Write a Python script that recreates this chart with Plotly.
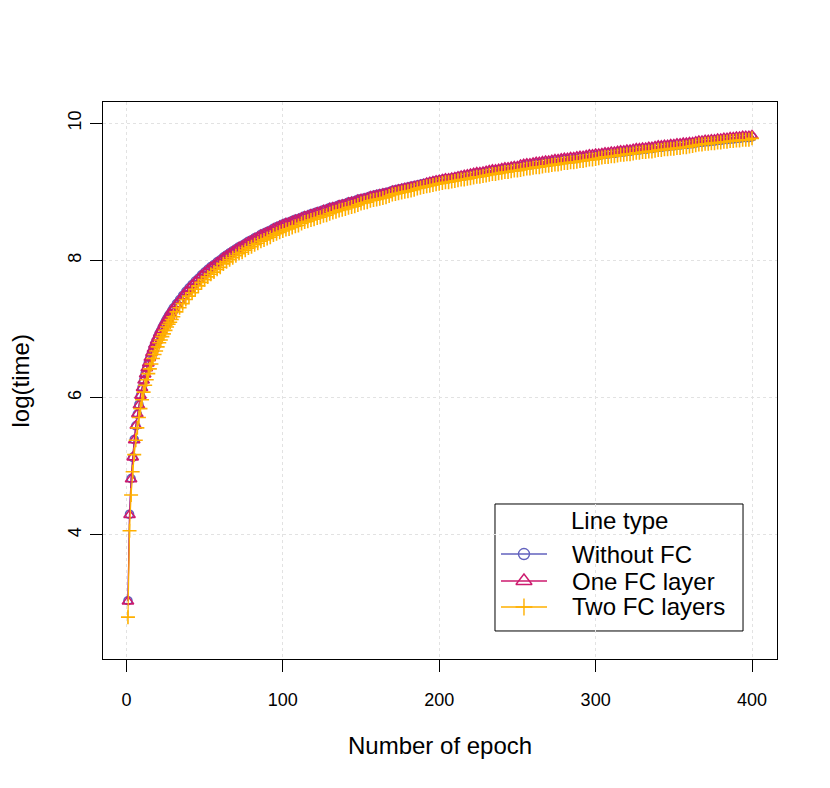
import plotly.graph_objects as go

# epochs: every epoch up to 30, then every 2nd
epochs = list(range(1, 31)) + list(range(32, 401, 2))

# log(time) per model
without_fc = [
    3.04, 4.30, 4.82, 5.13, 5.39, 5.59, 5.76, 5.90, 6.03, 6.15,
    6.25, 6.35, 6.43, 6.51, 6.58, 6.65, 6.72, 6.78, 6.83, 6.89,
    6.94, 6.98, 7.03, 7.07, 7.12, 7.16, 7.20, 7.23, 7.27, 7.31,
    # 32..400 step 2
    7.37, 7.43, 7.49, 7.55, 7.60, 7.65, 7.70, 7.74, 7.79, 7.83,
    7.87, 7.91, 7.94, 7.98, 8.01, 8.05, 8.08, 8.11, 8.14, 8.17,
    8.20, 8.22, 8.25, 8.28, 8.30, 8.33, 8.35, 8.38, 8.40, 8.42,
    8.44, 8.47, 8.49, 8.51, 8.53, 8.55, 8.56, 8.58, 8.60, 8.61,
    8.63, 8.65, 8.66, 8.68, 8.69, 8.71, 8.72, 8.74, 8.75, 8.77,
    8.78, 8.79, 8.81, 8.82, 8.83, 8.85, 8.86, 8.87, 8.89, 8.90,
    8.91, 8.92, 8.94, 8.95, 8.96, 8.97, 8.98, 8.99, 9.00, 9.02,
    9.03, 9.04, 9.05, 9.06, 9.07, 9.08, 9.09, 9.10, 9.11, 9.12,
    9.13, 9.14, 9.15, 9.16, 9.17, 9.18, 9.19, 9.19, 9.20, 9.21,
    9.22, 9.23, 9.23, 9.24, 9.25, 9.26, 9.27, 9.27, 9.28, 9.29,
    9.30, 9.31, 9.31, 9.32, 9.33, 9.34, 9.34, 9.35, 9.36, 9.36,
    9.37, 9.38, 9.39, 9.39, 9.40, 9.41, 9.41, 9.42, 9.43, 9.43,
    9.44, 9.45, 9.45, 9.46, 9.47, 9.47, 9.48, 9.48, 9.49, 9.50,
    9.50, 9.51, 9.52, 9.52, 9.53, 9.53, 9.54, 9.55, 9.55, 9.56,
    9.56, 9.57, 9.58, 9.58, 9.59, 9.59, 9.60, 9.61, 9.61, 9.62,
    9.62, 9.63, 9.63, 9.64, 9.65, 9.65, 9.66, 9.66, 9.67, 9.67,
    9.68, 9.68, 9.69, 9.69, 9.70, 9.70, 9.71, 9.72, 9.72, 9.73,
    9.73, 9.74, 9.74, 9.75, 9.75, 9.76, 9.76, 9.77, 9.77, 9.78,
    9.78, 9.79, 9.79, 9.79, 9.80,
]

one_fc = [
    3.03, 4.29, 4.81, 5.13, 5.38, 5.59, 5.76, 5.89, 6.03, 6.14,
    6.25, 6.34, 6.43, 6.50, 6.58, 6.65, 6.71, 6.77, 6.83, 6.88,
    6.93, 6.98, 7.02, 7.07, 7.11, 7.15, 7.19, 7.23, 7.27, 7.30,
    # 32..400 step 2
    7.36, 7.42, 7.48, 7.54, 7.59, 7.64, 7.69, 7.73, 7.78, 7.82,
    7.86, 7.90, 7.93, 7.97, 8.00, 8.04, 8.07, 8.10, 8.13, 8.16,
    8.19, 8.21, 8.24, 8.27, 8.29, 8.32, 8.34, 8.37, 8.39, 8.41,
    8.43, 8.46, 8.48, 8.50, 8.52, 8.54, 8.55, 8.57, 8.59, 8.60,
    8.62, 8.64, 8.65, 8.67, 8.68, 8.70, 8.71, 8.73, 8.74, 8.76,
    8.77, 8.78, 8.80, 8.81, 8.82, 8.84, 8.85, 8.86, 8.88, 8.89,
    8.90, 8.91, 8.93, 8.94, 8.95, 8.96, 8.97, 8.98, 8.99, 9.01,
    9.02, 9.03, 9.04, 9.05, 9.06, 9.07, 9.08, 9.09, 9.10, 9.11,
    9.13, 9.14, 9.15, 9.16, 9.17, 9.18, 9.19, 9.19, 9.20, 9.21,
    9.22, 9.23, 9.24, 9.25, 9.26, 9.27, 9.28, 9.28, 9.29, 9.30,
    9.31, 9.32, 9.32, 9.33, 9.34, 9.35, 9.35, 9.36, 9.37, 9.37,
    9.39, 9.40, 9.41, 9.41, 9.42, 9.43, 9.43, 9.44, 9.45, 9.45,
    9.46, 9.47, 9.47, 9.48, 9.49, 9.49, 9.50, 9.50, 9.51, 9.52,
    9.52, 9.53, 9.54, 9.54, 9.55, 9.55, 9.56, 9.57, 9.57, 9.58,
    9.58, 9.59, 9.60, 9.60, 9.61, 9.61, 9.62, 9.63, 9.63, 9.64,
    9.64, 9.65, 9.65, 9.66, 9.67, 9.67, 9.68, 9.68, 9.69, 9.69,
    9.70, 9.70, 9.71, 9.71, 9.72, 9.72, 9.73, 9.74, 9.74, 9.75,
    9.75, 9.76, 9.76, 9.77, 9.77, 9.78, 9.78, 9.79, 9.79, 9.80,
    9.80, 9.81, 9.81, 9.81, 9.82,
]

two_fc = [
    2.80, 4.06, 4.58, 4.92, 5.17, 5.38, 5.56, 5.71, 5.84, 5.97,
    6.08, 6.18, 6.26, 6.35, 6.42, 6.49, 6.57, 6.63, 6.68, 6.74,
    6.80, 6.84, 6.89, 6.93, 6.98, 7.03, 7.07, 7.10, 7.14, 7.18,
    # 32..400 step 2
    7.25, 7.31, 7.37, 7.43, 7.48, 7.53, 7.58, 7.63, 7.68, 7.72,
    7.76, 7.80, 7.83, 7.87, 7.90, 7.95, 7.98, 8.01, 8.04, 8.07,
    8.10, 8.12, 8.15, 8.18, 8.20, 8.23, 8.25, 8.28, 8.30, 8.32,
    8.34, 8.37, 8.39, 8.41, 8.43, 8.45, 8.46, 8.48, 8.50, 8.51,
    8.54, 8.56, 8.57, 8.59, 8.60, 8.62, 8.63, 8.65, 8.66, 8.68,
    8.70, 8.71, 8.73, 8.74, 8.75, 8.77, 8.78, 8.79, 8.81, 8.83,
    8.84, 8.85, 8.87, 8.88, 8.89, 8.90, 8.91, 8.92, 8.94, 8.96,
    8.97, 8.98, 8.99, 9.00, 9.01, 9.02, 9.03, 9.05, 9.06, 9.07,
    9.08, 9.09, 9.10, 9.11, 9.12, 9.13, 9.14, 9.14, 9.15, 9.16,
    9.17, 9.18, 9.18, 9.19, 9.20, 9.21, 9.22, 9.22, 9.23, 9.24,
    9.25, 9.26, 9.26, 9.27, 9.28, 9.29, 9.29, 9.30, 9.31, 9.31,
    9.32, 9.33, 9.34, 9.34, 9.35, 9.36, 9.36, 9.37, 9.38, 9.38,
    9.39, 9.40, 9.40, 9.41, 9.42, 9.42, 9.43, 9.43, 9.44, 9.45,
    9.45, 9.46, 9.47, 9.47, 9.48, 9.49, 9.50, 9.51, 9.51, 9.52,
    9.52, 9.53, 9.54, 9.54, 9.55, 9.55, 9.56, 9.57, 9.57, 9.58,
    9.58, 9.59, 9.59, 9.60, 9.61, 9.61, 9.62, 9.62, 9.63, 9.63,
    9.64, 9.64, 9.65, 9.65, 9.66, 9.67, 9.68, 9.69, 9.69, 9.70,
    9.70, 9.71, 9.71, 9.72, 9.72, 9.73, 9.73, 9.74, 9.74, 9.75,
    9.75, 9.76, 9.76, 9.76, 9.78,
]

series_names = ['Without FC', 'One FC layer', 'Two FC layers']
legend_title = 'Line type'
x_ticks = [0, 100, 200, 300, 400]
y_ticks = [4, 6, 8, 10]

colors = ['#6262BE', '#CC1A6E', '#FFB000']
symbols = ['circle-open', 'triangle-up-open', 'cross-thin-open']
sizes = [8, 10, 10]
legend_sizes = [11, 14, 12]

FONT = 'Liberation Sans, Arial, sans-serif'

fig = go.Figure()
for name, ys, col, sym, sz in zip(series_names, [without_fc, one_fc, two_fc],
                                  colors, symbols, sizes):
    fig.add_trace(go.Scatter(
        x=epochs, y=ys, name=name, showlegend=False,
        mode='lines+markers',
        line=dict(color=col, width=1.2),
        marker=dict(symbol=sym, size=sz, color=col,
                    line=dict(color=col, width=1.6)),
    ))

# hand drawn legend box (R style): positions in paper units of the plot area
leg_x0, leg_x1, leg_y0, leg_y1 = 0.5816, 0.9496, 0.0503, 0.2783
row_y = [0.1885, 0.1400, 0.0934]
seg_x0, seg_x1, sym_x, text_x = 0.5905, 0.6588, 0.6246, 0.6929

shapes = [dict(type='rect', xref='paper', yref='paper', layer='between',
               x0=leg_x0, x1=leg_x1, y0=leg_y0, y1=leg_y1,
               fillcolor='white', line=dict(color='black', width=1))]
annotations = [dict(text=legend_title, x=(leg_x0 + leg_x1) / 2, y=0.2478,
                    xref='paper', yref='paper', showarrow=False,
                    font=dict(size=24), xanchor='center', yanchor='middle')]
for name, col, sym, lsz, ry in zip(series_names, colors, symbols, legend_sizes, row_y):
    shapes.append(dict(type='line', xref='paper', yref='paper', layer='between',
                       x0=seg_x0, x1=seg_x1, y0=ry, y1=ry,
                       line=dict(color=col, width=1.3)))
    annotations.append(dict(text=name, x=text_x, y=ry, xref='paper', yref='paper',
                            showarrow=False, font=dict(size=24),
                            xanchor='left', yanchor='middle'))
    fig.add_trace(go.Scatter(
        x=[sym_x], y=[ry], xaxis='x2', yaxis='y2', mode='markers',
        showlegend=False, hoverinfo='skip',
        marker=dict(symbol=sym, size=lsz, color=col, line=dict(color=col, width=1.4)),
    ))

annotations += [
    dict(text='Number of epoch', x=0.5, y=-0.156, xref='paper', yref='paper',
         showarrow=False, font=dict(size=24), xanchor='center', yanchor='middle'),
    dict(text='log(time)', x=-0.1217, y=0.5, xref='paper', yref='paper',
         showarrow=False, font=dict(size=24), textangle=-90,
         xanchor='center', yanchor='middle'),
]

axis_common = dict(
    showline=True, mirror=True, linecolor='black', linewidth=1,
    ticks='outside', ticklen=12, tickcolor='black', tickwidth=1,
    showgrid=True, gridcolor='#e2e2e2', griddash='dot', gridwidth=1,
    zeroline=False,
    tickfont=dict(family=FONT, size=18, color='black'),
)

fig.update_layout(
    width=814, height=772,
    margin=dict(l=95, r=45, t=94, b=121),
    paper_bgcolor='white', plot_bgcolor='white',
    font=dict(family=FONT, color='black'),
    showlegend=False,
    xaxis=dict(range=[-14.96, 415.96], tickvals=x_ticks,
               ticklabelstandoff=12, **axis_common),
    yaxis=dict(range=[2.19, 10.31], tickvals=y_ticks, tickangle=-90,
               ticklabelstandoff=2, **axis_common),
    xaxis2=dict(overlaying='x', range=[0, 1], visible=False),
    yaxis2=dict(overlaying='y', range=[0, 1], visible=False),
    shapes=shapes,
    annotations=annotations,
)

fig.write_html('out.html')
